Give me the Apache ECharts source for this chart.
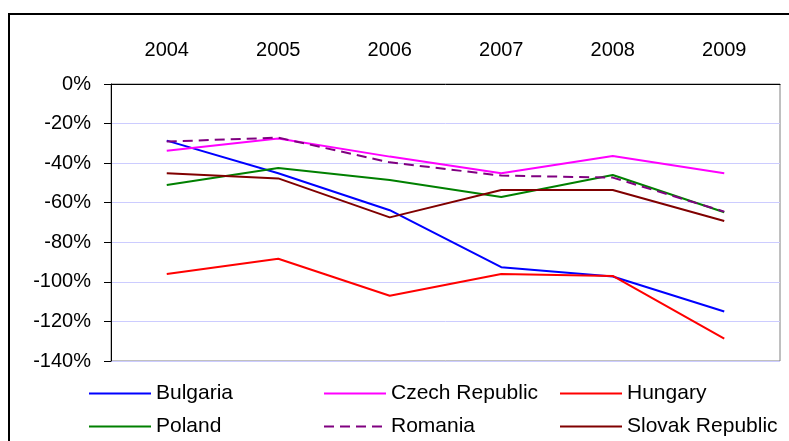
<!DOCTYPE html>
<html>
<head>
<meta charset="utf-8">
<script src="https://cdn.jsdelivr.net/npm/echarts@6/dist/echarts.min.js"></script>
<style>
	html, body { margin: 0; padding: 0; background: #fff; }
	#chart { width: 789px; height: 441px; }
</style>
</head>
<body>
<div id="chart"></div>
<script>
// 年份
const years = ["2004", "2005", "2006", "2007", "2008", "2009"]
// 各国数值 (%)
const bulgaria = [-28.6, -45.1, -63.8, -92.6, -97.3, -115.0]
const czech = [-33.7, -27.6, -36.7, -45.1, -36.4, -45.1]
const hungary = [-96.0, -88.3, -107.0, -96.0, -97.0, -128.7]
const poland = [-51.0, -42.4, -48.5, -57.1, -46.0, -64.8]
const romania = [-29.1, -27.1, -39.6, -46.3, -47.3, -64.5]
const slovak = [-45.1, -47.7, -67.4, -53.6, -53.6, -69.2]

const font = "Liberation Sans, Arial, sans-serif"

let myChart = echarts.init(document.getElementById("chart"))

function line(name, data, color, dashed) {
	return {
		name: name,
		type: "line",
		data: data,
		symbol: "none",
		showSymbol: false,
		lineStyle: { color: color, width: 2, type: dashed ? [10, 6] : "solid" },
		itemStyle: { color: color },
	}
}

// 每个图例单独放, 方便定位
function legendAt(name, left, top) {
	return {
		data: [name],
		left: left,
		top: top,
		padding: 0,
		itemWidth: 62,
		itemHeight: 14,
		itemStyle: { opacity: 0 },
		textStyle: { fontFamily: font, fontSize: 21, color: "#000" },
	}
}

let option = {
	animation: false,
	backgroundColor: "#fff",
	graphic: [
		{
			type: "rect",
			shape: { x: 9, y: 14, width: 800, height: 500 },
			style: { fill: "none", stroke: "#000", lineWidth: 2 },
		},
	],
	legend: [
		legendAt("Bulgaria", 88, 383),
		legendAt("Czech Republic", 323, 383),
		legendAt("Hungary", 559, 383),
		legendAt("Poland", 88, 416),
		legendAt("Romania", 323, 416),
		legendAt("Slovak Republic", 559, 416),
	],
	grid: {
		left: 111,
		right: 9,
		top: 84,
		bottom: 80,
		show: true,
		borderColor: "#808080",
		borderWidth: 1,
		containLabel: false,
	},
	xAxis: {
		type: "category",
		position: "top",
		data: years,
		boundaryGap: true,
		axisLine: { lineStyle: { color: "#000", width: 1 } },
		axisTick: { inside: true, length: 7, lineStyle: { color: "#000" } },
		axisLabel: { fontFamily: font, fontSize: 20, color: "#000", margin: 24 },
		splitLine: { show: false },
	},
	yAxis: {
		type: "value",
		min: -140,
		max: 0,
		interval: 20,
		axisLine: { show: true, lineStyle: { color: "#000", width: 1 } },
		axisTick: { show: true, length: 7, lineStyle: { color: "#000" } },
		axisLabel: {
			fontFamily: font,
			fontSize: 20,
			color: "#000",
			margin: 20,
			formatter: "{value}%",
		},
		splitLine: { lineStyle: { color: "#ccccff", width: 1 } },
	},
	series: [
		line("Bulgaria", bulgaria, "#0000ff"),
		line("Czech Republic", czech, "#ff00ff"),
		line("Hungary", hungary, "#ff0000"),
		line("Poland", poland, "#008000"),
		line("Romania", romania, "#800080", true),
		line("Slovak Republic", slovak, "#800000"),
	],
}
myChart.setOption(option)
</script>
</body>
</html>
